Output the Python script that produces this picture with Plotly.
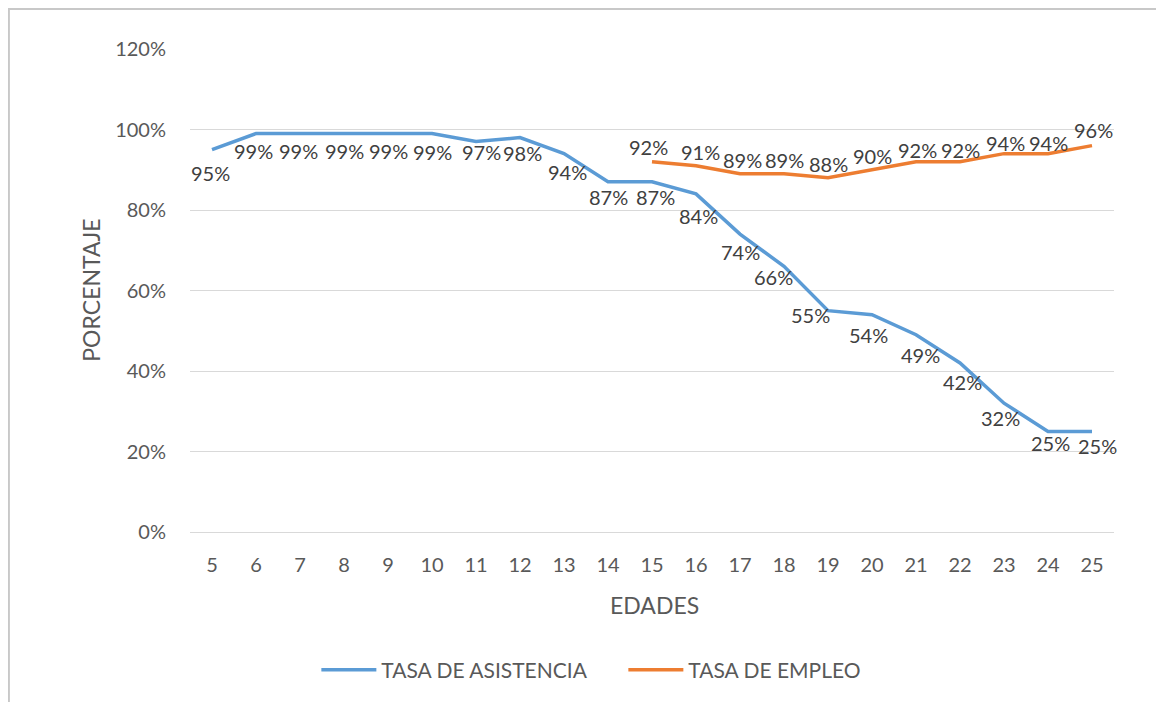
import plotly.graph_objects as go

# Edades (categorías del eje x)
edades = ["5", "6", "7", "8", "9", "10", "11", "12", "13", "14", "15",
          "16", "17", "18", "19", "20", "21", "22", "23", "24", "25"]

# Tasa de asistencia (5 a 25 años)
tasa_asistencia = [0.95, 0.99, 0.99, 0.99, 0.99, 0.99, 0.97, 0.98, 0.94, 0.87, 0.87,
                   0.84, 0.74, 0.66, 0.55, 0.54, 0.49, 0.42, 0.32, 0.25, 0.25]

# Tasa de empleo (15 a 25 años)
edades_empleo = ["15", "16", "17", "18", "19", "20", "21", "22", "23", "24", "25"]
tasa_empleo = [0.92, 0.91, 0.89, 0.89, 0.88, 0.90, 0.92, 0.92, 0.94, 0.94, 0.96]

y_ticks = [0, 0.2, 0.4, 0.6, 0.8, 1.0, 1.2]
y_tick_text = ["0%", "20%", "40%", "60%", "80%", "100%", "120%"]

FONT = "Lato, 'Open Sans', sans-serif"
BLUE = "#5B9BD5"
ORANGE = "#ED7D31"
GRAY = "#595959"
LABEL = "#404040"

# desplazamiento (px) de cada etiqueta respecto a su punto, como en el original
off_asistencia = [(-2, 23), (-3, 17), (-2, 17), (0, 17), (0, 17), (0, 18), (5, 10),
                  (2, 15), (3, 18), (0, 15), (3, 15), (2, 22), (0, 18), (-11, 11),
                  (-18, 4), (-4, 20), (4, 20), (2, 19), (-4, 15), (2, 12), (5, 15)]
off_empleo = [(-4, -15), (4, -14), (2, -14), (0, -14), (0, -14), (0, -14),
              (1, -12), (0, -12), (1, -11), (0, -11), (1, -16)]

fig = go.Figure()

fig.add_trace(go.Scatter(
    x=edades,
    y=tasa_asistencia,
    mode="lines",
    name="TASA DE ASISTENCIA",
    line=dict(color=BLUE, width=3.5),
))

fig.add_trace(go.Scatter(
    x=edades_empleo,
    y=tasa_empleo,
    mode="lines",
    name="TASA DE EMPLEO",
    line=dict(color=ORANGE, width=3.5),
))

# etiquetas de datos (en eje de categorías la anotación usa el índice)
labels = []
for xs, ys, offs in ((edades, tasa_asistencia, off_asistencia),
                     (edades_empleo, tasa_empleo, off_empleo)):
    for x, y, (dx, dy) in zip(xs, ys, offs):
        labels.append(dict(
            x=edades.index(x), y=y, xref="x", yref="y", text=f"{y:.0%}",
            xshift=dx, yshift=-dy, showarrow=False,
            xanchor="center", yanchor="middle",
            font=dict(size=20, color=LABEL),
        ))

fig.update_layout(
    width=1164,
    height=702,
    margin=dict(l=182, r=58, t=41, b=178),
    paper_bgcolor="white",
    plot_bgcolor="white",
    font=dict(family=FONT, size=19, color=GRAY),
    showlegend=True,
    legend=dict(
        orientation="h",
        x=0.469, xanchor="center",
        y=-0.286, yanchor="middle",
        itemwidth=55,
        entrywidth=237,
        font=dict(family=FONT, size=21, color=GRAY),
    ),
    annotations=labels + [
        dict(text="PORCENTAJE", x=-0.108, y=0.5, xref="paper", yref="paper",
             xanchor="center", yanchor="middle",
             textangle=-90, showarrow=False, font=dict(size=23, color=GRAY)),
        dict(text="EDADES", x=0.503, y=-0.151, xref="paper", yref="paper",
             xanchor="center", yanchor="middle",
             showarrow=False, font=dict(size=23, color=GRAY)),
    ],
    shapes=[
        dict(type="rect", xref="paper", yref="paper",
             x0=-0.196, x1=1.2, y0=-0.6, y1=1.083,
             line=dict(color="#C8C8C8", width=2)),
    ],
)

fig.update_xaxes(
    type="category",
    categoryorder="array",
    categoryarray=edades,
    range=[-0.5, len(edades) - 0.5],
    showgrid=False,
    showline=True,
    linecolor="#D9D9D9",
    ticks="outside",
    ticklen=15,
    tickcolor="rgba(0,0,0,0)",
    tickfont=dict(size=20, color=GRAY),
)

fig.update_yaxes(
    range=[0, 1.2],
    tickvals=y_ticks,
    ticktext=y_tick_text,
    showgrid=True,
    gridcolor="#D9D9D9",
    zeroline=False,
    ticks="outside",
    ticklen=19,
    tickcolor="rgba(0,0,0,0)",
    tickfont=dict(size=20, color=GRAY),
)

fig.write_html("out.html")
